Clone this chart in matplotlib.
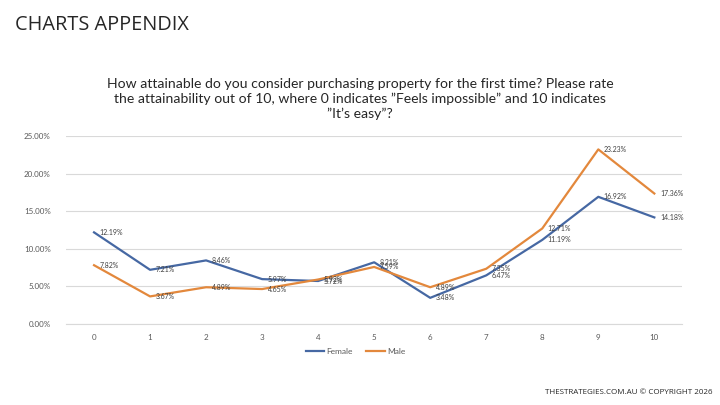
import matplotlib.pyplot as plt
from matplotlib.ticker import FuncFormatter, MultipleLocator

# ── data ──────────────────────────────
ratings = list(range(11))
female = [12.19, 7.21, 8.46, 5.97, 5.72, 8.21, 3.48, 6.47, 11.19, 16.92, 14.18]
male = [7.82, 3.67, 4.89, 4.65, 5.92, 7.59, 4.89, 7.35, 12.71, 23.23, 17.36]

QUESTION = ("How attainable do you consider purchasing property for the first time? Please rate\n"
            "the attainability out of 10, where 0 indicates \u201dFeels impossible\u201d and 10 indicates\n"
            "\u201dIt\u2019s easy\u201d?")

C = {
    "female": "#4668A3",
    "male": "#E3883C",
    "grid": "#D9D9D9",
    "tick": "#595959",
    "text": "#262626",
}

plt.rcParams["font.family"] = ["Lato", "DejaVu Sans"]

fig = plt.figure(figsize=(7.2, 4.05), dpi=100, facecolor="white")
ax = fig.add_axes([0.0917, 0.2, 0.856, 0.464])

ax.plot(ratings, female, color=C["female"], linewidth=1.6, label="Female")
ax.plot(ratings, male, color=C["male"], linewidth=1.6, label="Male")

for x, y in zip(ratings, female):
    ax.annotate(f"{y:.2f}%", (x, y), xytext=(4, 0), textcoords="offset points",
                ha="left", va="center", fontsize=5, color="#404040")
for x, y in zip(ratings, male):
    ax.annotate(f"{y:.2f}%", (x, y), xytext=(4, 0), textcoords="offset points",
                ha="left", va="center", fontsize=5, color="#404040")

ax.set_xlim(-0.5, 10.5)
ax.set_ylim(0, 25)
ax.set_xticks(ratings)
ax.yaxis.set_major_locator(MultipleLocator(5))
ax.yaxis.set_major_formatter(FuncFormatter(lambda v, p: f"{v:.2f}%"))
ax.grid(axis="y", color=C["grid"], linewidth=0.8)
ax.set_axisbelow(True)
for name, sp in ax.spines.items():
    sp.set_visible(name == "bottom")
ax.spines["bottom"].set_color(C["grid"])
ax.tick_params(axis="both", length=0, labelsize=5.8, colors=C["tick"])
ax.tick_params(axis="x", pad=7)
ax.tick_params(axis="y", pad=11)

ax.legend(loc="upper center", bbox_to_anchor=(0.47, -0.09), ncol=2, frameon=False,
          fontsize=6, handlelength=2.2, handletextpad=0.3, columnspacing=1.6,
          labelcolor=C["tick"])

fig.text(0.021, 0.938, "CHARTS APPENDIX", fontsize=14.3, color=C["text"],
         ha="left", va="center", family=["Open Sans", "DejaVu Sans"])
fig.text(0.5, 0.755, QUESTION, fontsize=10.1, color=C["text"], ha="center",
         va="center", linespacing=1.25)
fig.text(0.99, 0.032, "THESTRATEGIES.COM.AU \u00a9 COPYRIGHT 2026", fontsize=5.8,
         color=C["text"], ha="right", va="center", family=["Open Sans", "DejaVu Sans"])

fig.savefig("out.png", dpi=100, facecolor="white")
